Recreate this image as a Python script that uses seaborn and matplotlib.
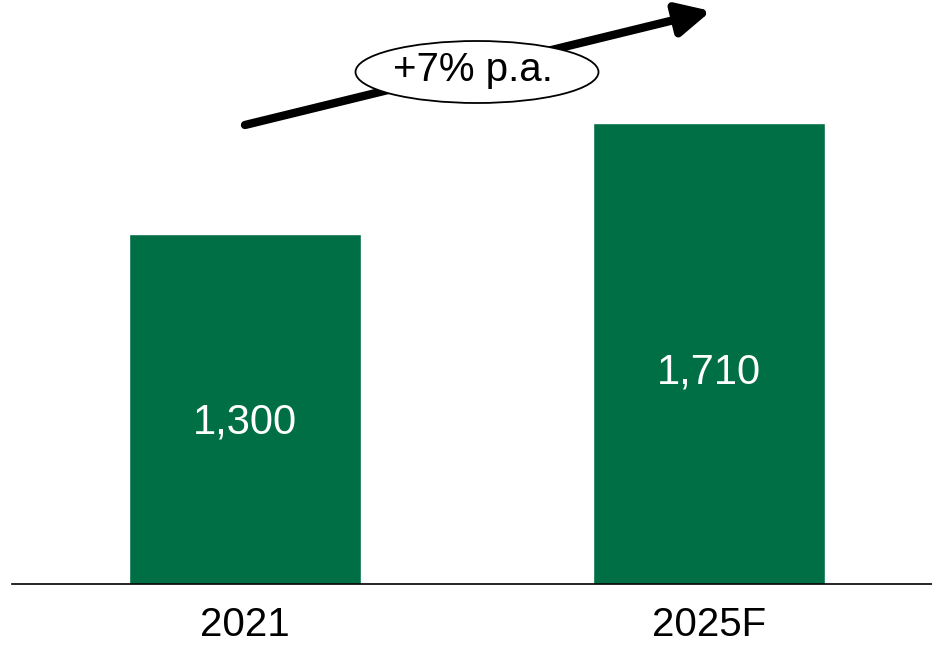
import matplotlib
matplotlib.use("Agg")
import matplotlib.pyplot as plt
from matplotlib.patches import Ellipse
import seaborn as sns
import pandas as pd

years = ["2021", "2025F"]
values = [1300, 1710]
value_labels = ["1,300", "1,710"]
growth_label = "+7% p.a."

GREEN = "#006F46"

sns.set_theme(style="white")
plt.rcParams["font.family"] = ["Liberation Sans", "DejaVu Sans"]

df = pd.DataFrame({"year": years, "value": values})

fig = plt.figure(figsize=(9.32, 6.45), dpi=100)
ax = fig.add_axes([12 / 932, 61 / 645, 920 / 932, 584 / 645])
sns.barplot(data=df, x="year", y="value", color=GREEN, saturation=1,
            width=0.5, ax=ax)
ax.set_xlim(-0.502, 1.48)
ax.set_ylim(0, 2168)

for i, (v, lab) in enumerate(zip(values, value_labels)):
    ax.text(i, v * 0.46, lab, ha="center", va="center", color="white",
            fontsize=30)

for s in ["top", "right", "left"]:
    ax.spines[s].set_visible(False)
ax.spines["bottom"].set_color("black")
ax.spines["bottom"].set_linewidth(1.2)
ax.set_yticks([])
ax.set_xlabel("")
ax.set_ylabel("")
ax.tick_params(axis="x", length=0, pad=16, labelsize=29, colors="black")

# growth arrow with oval label
ax.annotate("", xy=(711, 634), xycoords="figure pixels",
            xytext=(245, 520), textcoords="figure pixels",
            arrowprops=dict(arrowstyle="-|>,head_length=1.0,head_width=0.5",
                            lw=6, color="black", mutation_scale=20,
                            shrinkA=0, shrinkB=0))
oval = Ellipse((477 / 932, 573 / 645), 243 / 932, 62 / 645,
               transform=fig.transFigure, facecolor="white",
               edgecolor="black", lw=1.3, zorder=5)
fig.add_artist(oval)
fig.text(473 / 932, 575 / 645, growth_label, ha="center", va="center",
         fontsize=29, color="black", zorder=6)

fig.savefig("out.png", dpi=100)
